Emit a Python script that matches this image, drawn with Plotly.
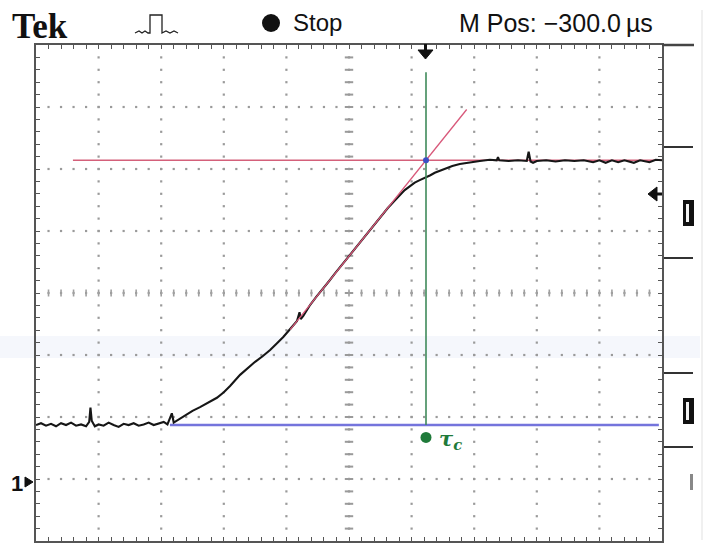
import plotly.graph_objects as go

# Channel 1 acquisition, in screen divisions (x: 0..10, y: -4..4 about centre)
trace_x = [0.00, 0.08, 0.16, 0.24, 0.32, 0.40, 0.48, 0.56, 0.64, 0.72, 0.80, 0.85, 0.87, 0.89,
           0.94, 1.00, 1.08, 1.16, 1.24, 1.32, 1.40, 1.48, 1.56, 1.64, 1.72, 1.80, 1.88, 1.96,
           2.04, 2.10, 2.17, 2.20, 2.26, 2.38, 2.50, 2.62, 2.75, 2.89, 3.00, 3.10, 3.26, 3.38,
           3.50, 3.62, 3.74, 3.85, 3.95, 4.06, 4.17, 4.21, 4.23, 4.27, 4.38, 4.48, 4.58, 4.68,
           4.78, 4.90, 5.02, 5.12, 5.21, 5.32, 5.42, 5.52, 5.62, 5.72, 5.81, 5.89, 5.97, 6.05,
           6.13, 6.23, 6.30, 6.37, 6.45, 6.53, 6.65, 6.77, 6.93, 7.09, 7.25, 7.36, 7.38, 7.40,
           7.55, 7.70, 7.84, 7.87, 7.90, 7.94, 8.00, 8.15, 8.30, 8.45, 8.60, 8.75, 8.90, 9.00,
           9.10, 9.20, 9.30, 9.40, 9.55, 9.65, 9.80, 9.90, 10.00]
trace_y = [-2.13, -2.10, -2.14, -2.11, -2.15, -2.10, -2.13, -2.09, -2.14, -2.12, -2.15, -2.08, -1.85, -2.06,
           -2.15, -2.12, -2.14, -2.09, -2.13, -2.16, -2.11, -2.13, -2.10, -2.14, -2.12, -2.09, -2.13, -2.11,
           -2.08, -2.12, -1.94, -2.09, -2.05, -1.97, -1.90, -1.84, -1.77, -1.69, -1.60, -1.50, -1.32, -1.21,
           -1.11, -1.02, -0.92, -0.81, -0.71, -0.58, -0.45, -0.31, -0.42, -0.37, -0.19, -0.06, 0.06, 0.19,
           0.32, 0.47, 0.62, 0.74, 0.86, 1.00, 1.12, 1.25, 1.37, 1.48, 1.58, 1.66, 1.72, 1.78,
           1.82, 1.86, 1.90, 1.94, 1.97, 2.00, 2.05, 2.08, 2.11, 2.13, 2.15, 2.14, 2.19, 2.14,
           2.13, 2.14, 2.13, 2.28, 2.12, 2.10, 2.13, 2.14, 2.12, 2.14, 2.13, 2.14, 2.11, 2.14,
           2.10, 2.14, 2.11, 2.14, 2.10, 2.14, 2.11, 2.15, 2.14]

# Construction lines for the tangent method
final_level = 2.14
base_level = -2.13
level_x = [0.59, 10.0]
base_x = [2.14, 9.95]
tangent_x = [4.06, 6.88]
tangent_y = [-0.59, 2.96]
tau_x = 6.23
cursor_y = [3.56, -2.13]

W, H = 711, 544
L, R, T, B = 36, 49, 45, 3
PW, PH = W - L - R, H - T - B


def fx(p):
    return (p - L) / PW


def fy(p):
    return (H - B - p) / PH


def path(points, close=False):
    s = "M " + " L ".join(f"{fx(a):.5f},{fy(b):.5f}" for a, b in points)
    return s + (" Z" if close else "")


fig = go.Figure()

# graticule dots
gx, gy = [], []
for k in range(1, 10):
    for i in range(1, 40):
        gx.append(k)
        gy.append(-4 + i * 0.2)
for j in range(-3, 4):
    for i in range(1, 50):
        gx.append(i * 0.2)
        gy.append(j)
fig.add_trace(go.Scatter(x=gx, y=gy, mode="markers", hoverinfo="skip",
                         marker=dict(symbol="square", size=2.2, color="#9a9a9a")))
# centre-line minor marks
fig.add_trace(go.Scatter(x=[5] * 39, y=[-4 + i * 0.2 for i in range(1, 40)], mode="markers",
                         hoverinfo="skip",
                         marker=dict(symbol="line-ew", size=6, line=dict(width=2, color="#9a9a9a"))))
fig.add_trace(go.Scatter(x=[i * 0.2 for i in range(1, 50)], y=[0] * 49, mode="markers",
                         hoverinfo="skip",
                         marker=dict(symbol="line-ns", size=5, line=dict(width=1.6, color="#a0a0a0"))))

# baseline (blue) and final level (red)
fig.add_trace(go.Scatter(x=base_x, y=[base_level, base_level], mode="lines",
                         line=dict(color="#7474dc", width=2.6), hoverinfo="skip"))
fig.add_trace(go.Scatter(x=level_x, y=[final_level, final_level], mode="lines",
                         line=dict(color="#d4607a", width=1.4), hoverinfo="skip"))

# measured response
fig.add_trace(go.Scatter(x=trace_x, y=trace_y, mode="lines",
                         line=dict(color="#161616", width=2.1), hoverinfo="skip"))

# tangent at the inflexion
fig.add_trace(go.Scatter(x=tangent_x, y=tangent_y, mode="lines",
                         line=dict(color="#d8587a", width=1.3), hoverinfo="skip"))

# time-constant cursor
fig.add_trace(go.Scatter(x=[tau_x, tau_x], y=cursor_y, mode="lines",
                         line=dict(color="#3f8a5a", width=1.6), hoverinfo="skip"))
fig.add_trace(go.Scatter(x=[tau_x], y=[final_level], mode="markers",
                         marker=dict(size=6, color="#3b4fc4"), hoverinfo="skip"))
fig.add_trace(go.Scatter(x=[tau_x], y=[base_level - 0.2], mode="markers",
                         marker=dict(size=11, color="#1f7a3a"), hoverinfo="skip"))

shapes = []
# faint scan band
shapes.append(dict(type="rect", xref="paper", yref="paper", x0=fx(0), x1=fx(700),
                   y0=fy(358), y1=fy(336), fillcolor="rgba(185,195,235,0.14)",
                   line=dict(width=0), layer="below"))
# run/stop dot
shapes.append(dict(type="circle", xref="paper", yref="paper", x0=fx(262), x1=fx(280),
                   y0=fy(32), y1=fy(14), fillcolor="#111", line=dict(width=0)))
# acquisition icon
shapes.append(dict(type="path", xref="paper", yref="paper",
                   path=path([(135, 33), (139, 31), (142, 33), (145, 31), (148, 33), (150, 33),
                              (150, 15), (162, 15), (162, 33), (166, 31), (170, 33), (174, 31),
                              (178, 33)]),
                   line=dict(color="#222", width=1.3)))
# trigger position arrow
shapes.append(dict(type="path", xref="paper", yref="paper",
                   path=path([(418, 50), (433, 50), (425.5, 59)], close=True),
                   fillcolor="#111", line=dict(color="#111", width=1)))
shapes.append(dict(type="line", xref="paper", yref="paper", x0=fx(425.5), x1=fx(425.5),
                   y0=fy(44), y1=fy(51), line=dict(color="#111", width=3)))
# trigger level arrow
shapes.append(dict(type="path", xref="paper", yref="paper",
                   path=path([(648, 194), (657, 187), (657, 201)], close=True),
                   fillcolor="#111", line=dict(color="#111", width=1)))
shapes.append(dict(type="line", xref="paper", yref="paper", x0=fx(656), x1=fx(662),
                   y0=fy(194), y1=fy(194), line=dict(color="#111", width=3)))
# channel 1 ground marker
shapes.append(dict(type="path", xref="paper", yref="paper",
                   path=path([(25, 477), (33, 482), (25, 487)], close=True),
                   fillcolor="#111", line=dict(color="#111", width=1)))
# side menu separators
shapes.append(dict(type="line", xref="paper", yref="paper", x0=fx(662), x1=fx(694),
                   y0=fy(45), y1=fy(45), line=dict(color="#444", width=2.5)))
for yy in (147, 258, 373, 447):
    shapes.append(dict(type="line", xref="paper", yref="paper", x0=fx(664), x1=fx(693),
                       y0=fy(yy), y1=fy(yy), line=dict(color="#333", width=2)))
for yy in (200, 398):
    shapes.append(dict(type="rect", xref="paper", yref="paper", x0=fx(683), x1=fx(694),
                       y0=fy(yy + 26), y1=fy(yy), fillcolor="#111", line=dict(width=0)))
    shapes.append(dict(type="rect", xref="paper", yref="paper", x0=fx(686), x1=fx(689),
                       y0=fy(yy + 22), y1=fy(yy + 4), fillcolor="#f4f4f4", line=dict(width=0)))
shapes.append(dict(type="rect", xref="paper", yref="paper", x0=fx(690), x1=fx(693),
                   y0=fy(490), y1=fy(474), fillcolor="#888", line=dict(width=0)))
shapes.append(dict(type="line", xref="paper", yref="paper", x0=fx(702), x1=fx(702),
                   y0=fy(540), y1=fy(10), line=dict(color="rgba(0,0,0,0.06)", width=2)))

annotations = [
    dict(text="<b>Tek</b>", x=fx(10), y=fy(27), xanchor="left", yanchor="middle",
         font=dict(family="Liberation Serif, serif", size=35, color="#111")),
    dict(text="Stop", x=fx(291), y=fy(23), xanchor="left", yanchor="middle",
         font=dict(family="Liberation Sans Narrow, Liberation Sans, sans-serif", size=24, color="#111")),
    dict(text="M Pos: \u2212300.0\u202f\u00b5s", x=fx(457), y=fy(23), xanchor="left", yanchor="middle",
         font=dict(family="Liberation Sans Narrow, Liberation Sans, sans-serif", size=25, color="#111")),
    dict(text="<b>1</b>", x=fx(9), y=fy(483), xanchor="left", yanchor="middle",
         font=dict(family="Liberation Sans, sans-serif", size=22, color="#111")),
    dict(text="<b><i>\u03c4<sub>c</sub></i></b>", x=fx(437), y=fy(439), xanchor="left", yanchor="middle",
         font=dict(family="DejaVu Serif, serif", size=21, color="#1f7a3a")),
]
for a in annotations:
    a.update(xref="paper", yref="paper", showarrow=False)

axis_common = dict(showgrid=False, zeroline=False, showticklabels=False, showline=True,
                   linecolor="#555", linewidth=1.5, mirror="ticks", ticks="inside",
                   ticklen=4, tickwidth=1.2, tickcolor="#555", fixedrange=True)

fig.update_layout(
    width=W, height=H, margin=dict(l=L, r=R, t=T, b=B),
    paper_bgcolor="white", plot_bgcolor="white", showlegend=False,
    xaxis=dict(range=[0, 10], tick0=0, dtick=0.2, **axis_common),
    yaxis=dict(range=[-4, 4], tick0=-4, dtick=0.2, **axis_common),
    shapes=shapes, annotations=annotations,
)

fig.write_html("out.html")
